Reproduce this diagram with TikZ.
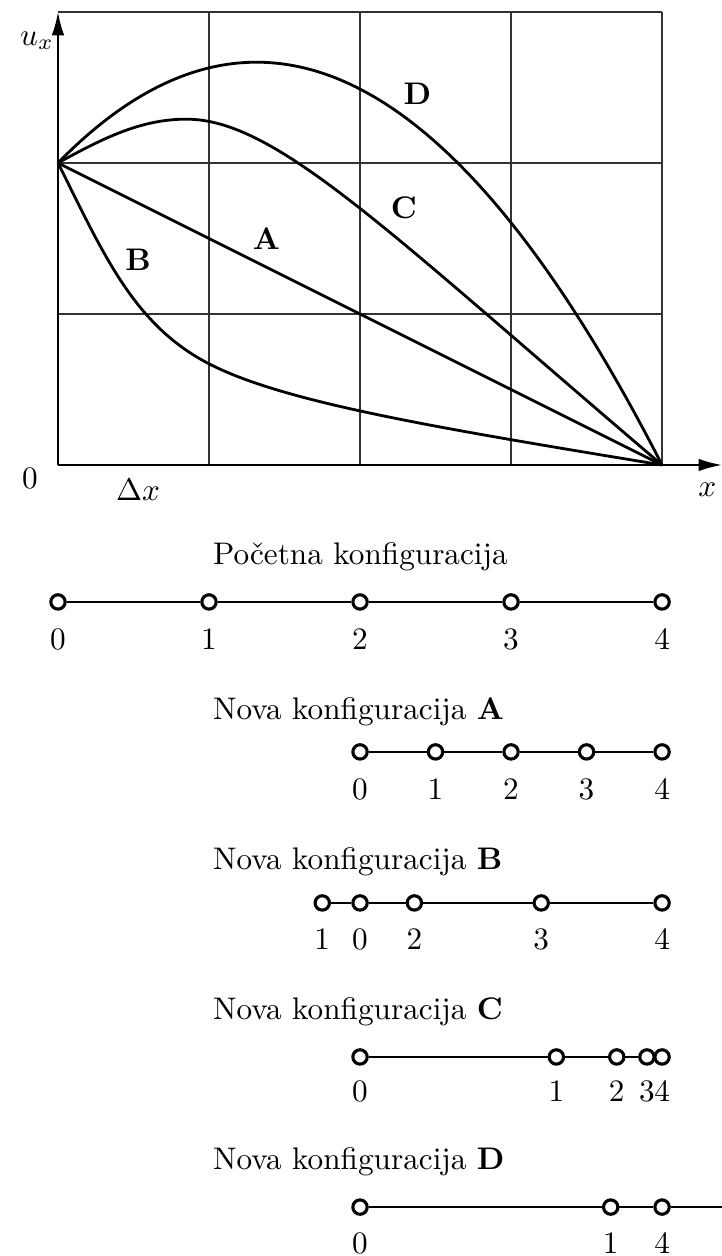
\documentclass[tikz,border=0pt]{standalone}
\usetikzlibrary{arrows.meta,positioning}

\begin{document}
\begin{tikzpicture}[
  x=1.7cm, y=1.7cm,
  font=\fontsize{10}{12}\selectfont,
  gridline/.style={thin, black!80},
  axis/.style={-{Latex[length=7.5pt,width=4pt]}, semithick},
  curve/.style={line width=0.9pt},
  knot/.style={circle, draw, fill=white, line width=1pt,
    inner sep=0pt, minimum size=4.6pt},
  bar/.style={line width=0.9pt},
  lbl/.style={font=\bfseries},
  title/.style={anchor=west}
]
\useasboundingbox (-0.384,-5.238) rectangle (4.397,3.079);

% Grid and axes
\foreach \gx in {1,...,4}
  \draw[gridline] (\gx,0) -- (\gx,3);
\foreach \gy in {1,...,3}
  \draw[gridline] (0,\gy) -- (4,\gy);
\coordinate (o) at (0,0);
\coordinate (ytop) at (0,3);
\coordinate (xtip) at (4.397,0);
\draw[axis] (o) -- (ytop);
\draw[axis] (o) -- (xtip);

\node (ux) at (-0.139,2.81) {$u_x$};
\node (zero) at (-0.185,-0.086) {$0$};
\node (dx) at (0.53,-0.166) {$\Delta x$};
\node (xlab) at (4.30,-0.166) {$x$};

% Displacement curves
\coordinate (s) at (0,2);
\coordinate (e) at (4,0);
\draw[curve] (s) -- (e);
\draw[curve] (s) .. controls (0.3,1.4) and (0.5,0.9275) .. (1,0.67)
  .. controls (1.5,0.4125) and (2.5,0.2475) .. (e);
\draw[curve] (s) .. controls (0.3,2.165) and (0.55,2.29) .. (0.85,2.29)
  .. controls (1.45,2.29) and (2.2,1.53) .. (e);
\draw[curve] (s) .. controls (1.333,3.364) and (2.667,2.607) .. (e);

\node[lbl] (lA) at (1.38,1.50) {A};
\node[lbl] (lB) at (0.53,1.36) {B};
\node[lbl] (lC) at (2.29,1.70) {C};
\node[lbl] (lD) at (2.38,2.46) {D};

% Initial configuration
\node[title] (t0) at (0.955,-0.61) {Početna konfiguracija};
\foreach \i/\xx in {0/0,1/1,2/2,3/3,4/4} {
  \node[knot] (p\i) at (\xx,-0.907) {};
  \node (np\i) at (\xx,-1.155) {$\i$};
}
\draw[bar] (p0) -- (p1) -- (p2) -- (p3) -- (p4);

% Configuration A
\node[title] (tA) at (0.955,-1.636) {Nova konfiguracija \textbf{A}};
\foreach \i/\xx in {0/2,1/2.5,2/3,3/3.5,4/4} {
  \node[knot] (a\i) at (\xx,-1.90) {};
  \node (na\i) at (\xx,-2.148) {$\i$};
}
\draw[bar] (a0) -- (a1) -- (a2) -- (a3) -- (a4);

% Configuration B
\node[title] (tB) at (0.955,-2.63) {Nova konfiguracija \textbf{B}};
\foreach \i/\xx in {0/2,1/1.75,2/2.36,3/3.2,4/4} {
  \node[knot] (b\i) at (\xx,-2.90) {};
  \node (nb\i) at (\xx,-3.142) {$\i$};
}
\draw[bar] (b1) -- (b0) -- (b2) -- (b3) -- (b4);

% Configuration C
\node[title] (tC) at (0.955,-3.62) {Nova konfiguracija \textbf{C}};
\foreach \i/\xx in {0/2,1/3.30,2/3.70,3/3.90,4/4} {
  \node[knot] (c\i) at (\xx,-3.92) {};
  \node (nc\i) at (\xx,-4.148) {$\i$};
}
\draw[bar] (c0) -- (c1) -- (c2) -- (c3) -- (c4);

% Configuration D
\node[title] (tD) at (0.955,-4.616) {Nova konfiguracija \textbf{D}};
\foreach \i/\xx in {0/2,1/3.66,4/4} {
  \node[knot] (d\i) at (\xx,-4.914) {};
  \node (nd\i) at (\xx,-5.155) {$\i$};
}
\coordinate (dend) at (4.397,-4.914);
\draw[bar] (d0) -- (d1) -- (d4) -- (dend);

\end{tikzpicture}
\end{document}
